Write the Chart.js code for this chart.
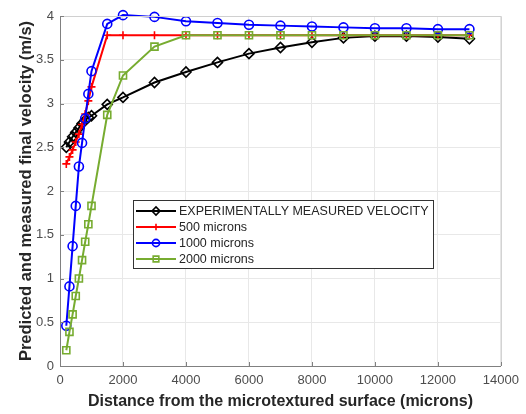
<!DOCTYPE html>
<html>
<head>
<meta charset="utf-8">
<script src="https://cdn.jsdelivr.net/npm/chart.js@4.4.1/dist/chart.umd.min.js"></script>
<style>
  html, body { margin: 0; padding: 0; background: #fff; }
  #wrap { position: relative; width: 526px; height: 414px; }
</style>
</head>
<body>
<div id="wrap"><canvas id="mainChart"></canvas></div>
<script>
// distances (microns)
const xShort = [200, 300, 400, 500, 600, 700, 800, 900, 1000, 1500, 2000, 3000, 4000, 5000, 6000, 7000, 8000, 9000, 10000, 11000, 12000, 13000];

// velocities (m/s)
const measured = [2.50, 2.56, 2.62, 2.67, 2.72, 2.77, 2.81, 2.84, 2.86, 2.99, 3.07, 3.24, 3.36, 3.47, 3.57, 3.64, 3.70, 3.75, 3.77, 3.77, 3.76, 3.74];
const micro500 = [2.31, 2.39, 2.47, 2.56, 2.65, 2.76, 2.88, 3.03, 3.19, 3.78, 3.78, 3.78, 3.78, 3.78, 3.78, 3.78, 3.78, 3.78, 3.78, 3.78, 3.78, 3.78];
const micro1000 = [0.46, 0.91, 1.37, 1.83, 2.28, 2.55, 2.83, 3.11, 3.37, 3.91, 4.01, 3.99, 3.94, 3.92, 3.90, 3.89, 3.88, 3.87, 3.86, 3.86, 3.85, 3.85];
const micro2000 = [0.18, 0.39, 0.59, 0.80, 1.00, 1.21, 1.42, 1.62, 1.83, 2.87, 3.32, 3.65, 3.78, 3.78, 3.78, 3.78, 3.78, 3.78, 3.78, 3.78, 3.78, 3.78];

const seriesLabels = ['EXPERIMENTALLY MEASURED VELOCITY', '500 microns', '1000 microns', '2000 microns'];

const xTicks = [0, 2000, 4000, 6000, 8000, 10000, 12000, 14000];
const yTicks = [0, 0.5, 1, 1.5, 2, 2.5, 3, 3.5, 4];

const FONT = '"Liberation Sans", Arial, sans-serif';

function toPoints(ys) {
    return ys.map((y, i) => ({ x: xShort[i], y: y }));
}

function makeSet(label, ys, color, style, radius, order) {
    return {
        label: label,
        data: toPoints(ys),
        borderColor: color,
        backgroundColor: color,
        borderWidth: 2,
        pointStyle: style,
        pointRadius: radius,
        pointBorderWidth: 1.6,
        pointBorderColor: color,
        pointBackgroundColor: 'rgba(0,0,0,0)',
        tension: 0,
        clip: 8,
        order: order
    };
}

// matlab style box, inward ticks and the legend inside the axes
const matlabBox = {
    id: 'matlabBox',
    afterDatasetsDraw(chart) {
        const { ctx, chartArea: a, scales } = chart;
        ctx.save();
        ctx.lineWidth = 1;
        ctx.strokeStyle = '#d0d0d0';
        ctx.beginPath();
        ctx.moveTo(a.left, a.top + 0.5);
        ctx.lineTo(a.right + 0.5, a.top + 0.5);
        ctx.lineTo(a.right + 0.5, a.bottom);
        ctx.stroke();

        ctx.strokeStyle = '#808080';
        ctx.beginPath();
        xTicks.forEach(v => {
            const px = Math.round(scales.x.getPixelForValue(v)) + 0.5;
            ctx.moveTo(px, a.bottom);
            ctx.lineTo(px, a.bottom - 4);
        });
        yTicks.forEach(v => {
            const py = Math.round(scales.y.getPixelForValue(v)) + 0.5;
            ctx.moveTo(a.left, py);
            ctx.lineTo(a.left + 4, py);
        });
        ctx.stroke();

        // legend
        const bx = 133, by = 200, bw = 300, bh = 68;
        ctx.fillStyle = '#fff';
        ctx.fillRect(bx, by, bw, bh);
        ctx.strokeStyle = '#333';
        ctx.strokeRect(bx + 0.5, by + 0.5, bw, bh);
        ctx.font = '12.5px ' + FONT;
        ctx.textBaseline = 'middle';
        chart.data.datasets.forEach((ds, i) => {
            const y = by + 11 + i * 16;
            ctx.strokeStyle = ds.borderColor;
            ctx.lineWidth = 2;
            ctx.beginPath();
            ctx.moveTo(bx + 3, y);
            ctx.lineTo(bx + 43, y);
            ctx.stroke();
            ctx.fillStyle = 'rgba(0,0,0,0)';
            ctx.lineWidth = 1.6;
            Chart.helpers.drawPoint(ctx, {
                pointStyle: ds.pointStyle,
                radius: ds.pointRadius * 0.8,
                rotation: 0,
                borderWidth: 1.6
            }, bx + 23, y);
            ctx.fillStyle = '#262626';
            ctx.fillText(ds.label, bx + 46, y + 1);
        });
        ctx.restore();
    }
};

new Chart(document.getElementById('mainChart'), {
    type: 'line',
    data: {
        datasets: [
            makeSet(seriesLabels[0], measured, '#000000', 'rectRot', 5, 3),
            makeSet(seriesLabels[1], micro500, '#ff0000', 'cross', 4, 2),
            makeSet(seriesLabels[2], micro1000, '#0000ff', 'circle', 4.5, 1),
            makeSet(seriesLabels[3], micro2000, '#77ac30', 'rect', 5, 0)
        ]
    },
    options: {
        responsive: true,
        maintainAspectRatio: false,
        animation: false,
        layout: { padding: { top: 16, right: 25, left: 0, bottom: 0 } },
        plugins: {
            legend: { display: false },
            tooltip: { enabled: false }
        },
        scales: {
            x: {
                type: 'linear',
                min: 0,
                max: 14000,
                afterFit: s => { s.height = 48; },
                afterBuildTicks: s => { s.ticks = xTicks.map(v => ({ value: v })); },
                ticks: {
                    color: '#4d4d4d',
                    font: { family: FONT, size: 13 },
                    padding: 7,
                    maxRotation: 0,
                    callback: v => String(v)
                },
                grid: { color: '#e8e8e8', drawTicks: false },
                border: { color: '#808080' },
                title: {
                    display: true,
                    text: 'Distance from the microtextured surface (microns)',
                    color: '#262626',
                    font: { family: FONT, size: 16, weight: 'bold' },
                    padding: { top: 0, bottom: 3 }
                }
            },
            y: {
                type: 'linear',
                min: 0,
                max: 4,
                afterFit: s => { s.width = 60; },
                afterBuildTicks: s => { s.ticks = yTicks.map(v => ({ value: v })); },
                ticks: {
                    color: '#4d4d4d',
                    font: { family: FONT, size: 13 },
                    padding: 6,
                    callback: v => String(v)
                },
                grid: { color: '#e8e8e8', drawTicks: false },
                border: { color: '#808080' },
                title: {
                    display: true,
                    text: 'Predicted and measured final velocity (m/s)',
                    color: '#262626',
                    font: { family: FONT, size: 16.5, weight: 'bold' },
                    padding: { top: 17, bottom: 0 }
                }
            }
        }
    },
    plugins: [matlabBox]
});
</script>
</body>
</html>
